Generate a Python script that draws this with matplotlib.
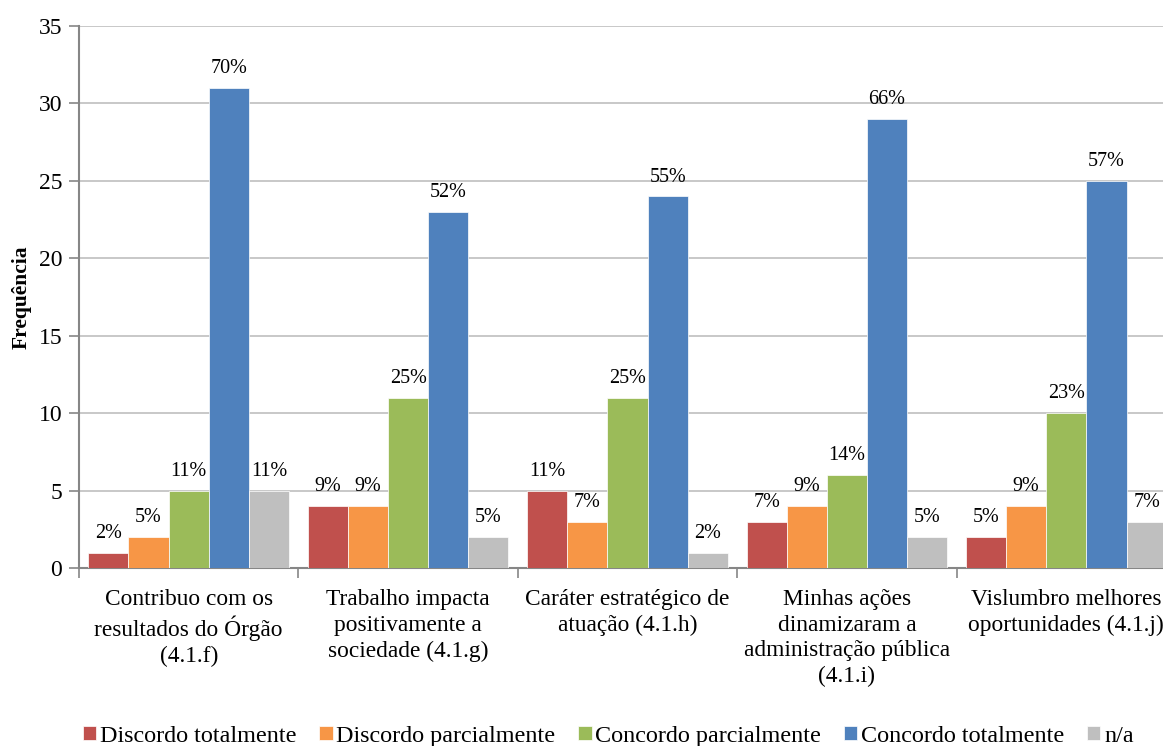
import matplotlib.pyplot as plt
import numpy as np

plt.rcParams['font.family'] = ['Liberation Serif', 'DejaVu Serif']

# category labels and series values
categorias = [
    "Contribuo com os\nresultados do Órgão\n(4.1.f)",
    "Trabalho impacta\npositivamente a\nsociedade (4.1.g)",
    "Caráter estratégico de\natuação (4.1.h)",
    "Minhas ações\ndinamizaram a\nadministração pública\n(4.1.i)",
    "Vislumbro melhores\noportunidades (4.1.j)",
]
series = ["Discordo totalmente", "Discordo parcialmente", "Concordo parcialmente",
          "Concordo totalmente", "n/a"]
discordo_tot = [1, 4, 5, 3, 2]
discordo_parc = [2, 4, 3, 4, 4]
concordo_parc = [5, 11, 11, 6, 10]
concordo_tot = [31, 23, 24, 29, 25]
na = [5, 2, 1, 2, 3]
pct_discordo_tot = ["2%", "9%", "11%", "7%", "5%"]
pct_discordo_parc = ["5%", "9%", "7%", "9%", "9%"]
pct_concordo_parc = ["11%", "25%", "25%", "14%", "23%"]
pct_concordo_tot = ["70%", "52%", "55%", "66%", "57%"]
pct_na = ["11%", "5%", "2%", "5%", "7%"]

valores = [discordo_tot, discordo_parc, concordo_parc, concordo_tot, na]
rotulos = [pct_discordo_tot, pct_discordo_parc, pct_concordo_parc, pct_concordo_tot, pct_na]
cores = ['#C0504D', '#F79646', '#9BBB59', '#4F81BD', '#BFBFBF']

fig = plt.figure(figsize=(11.63, 7.46), dpi=100)
ax = fig.add_axes([79 / 1163, 1 - 568 / 746, 1097 / 1163, 542 / 746])

x = np.arange(len(categorias))
w = 0.183
for i, (vals, labs, cor, nome) in enumerate(zip(valores, rotulos, cores, series)):
    pos = x + (i - 2) * w
    ax.bar(pos, vals, width=w, color=cor, edgecolor='white', linewidth=0.5,
           label=nome, zorder=3)
    for px, v, lab in zip(pos, vals, labs):
        ax.annotate(lab, (px, v), xytext=(0, 7), textcoords='offset points',
                    ha='center', va='bottom', fontsize=14.5)

ax.set_xlim(-0.5, len(categorias) - 0.5)
ax.set_ylim(0, 35)
ax.set_yticks(range(0, 36, 5))
ax.yaxis.grid(True, color='#BFBFBF', linewidth=1.2, zorder=0)
ax.set_axisbelow(True)

ax.set_xticks(x)
ax.set_xticklabels(categorias, fontsize=16.8, linespacing=1.3)
ax.set_xticks(np.arange(-0.5, len(categorias)), minor=True)
ax.tick_params(axis='x', which='major', length=0, pad=15)
ax.tick_params(axis='x', which='minor', length=7, color='#868686', width=1.2)
ax.tick_params(axis='y', labelsize=17, length=7, color='#868686', width=1.2, pad=5)

for s in ['top', 'right']:
    ax.spines[s].set_visible(False)
for s in ['left', 'bottom']:
    ax.spines[s].set_color('#868686')
    ax.spines[s].set_linewidth(1.5)

ax.set_ylabel('Frequência', fontsize=15.5, fontweight='bold', labelpad=5)

fig.legend(loc='lower center', bbox_to_anchor=(0.523, -0.03), ncol=5, frameon=False,
           fontsize=17.4, handlelength=0.55, handleheight=0.55, handletextpad=0.15,
           columnspacing=0.95)

fig.savefig('out.png', dpi=100)
